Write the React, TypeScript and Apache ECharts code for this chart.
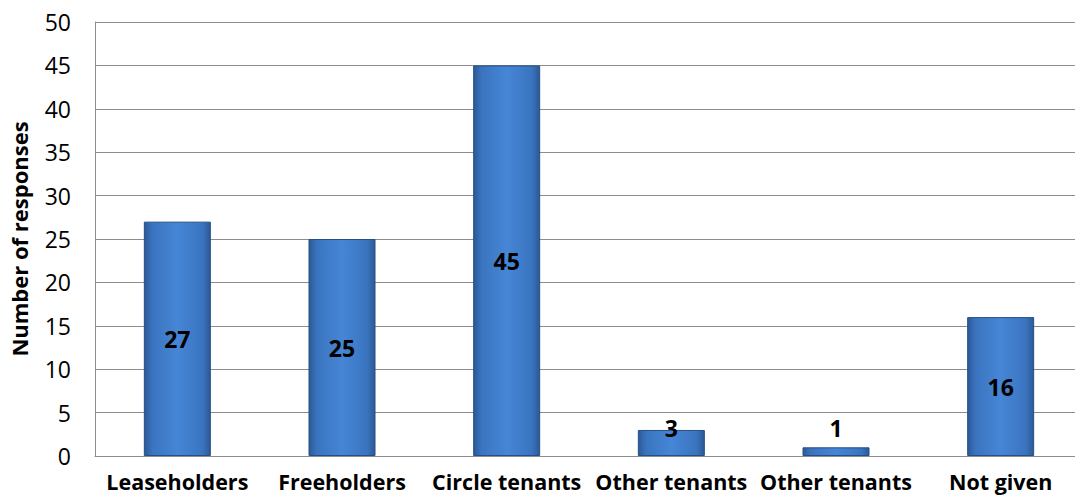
import React, { useEffect, useRef } from "react";
import * as echarts from "echarts";

const categories = ["Leaseholders", "Freeholders", "Circle tenants", "Other tenants", "Other tenants", "Not given"];
const values = [27, 25, 45, 3, 1, 16];
const labelOffsets = [0, 0, 0, -15, -24, 0];
const yTicks = { min: 0, max: 50, interval: 5 };

export default function App() {
  const ref = useRef<HTMLDivElement>(null);
  useEffect(() => {
    if (!ref.current) return;
    const chart = echarts.init(ref.current, null, { renderer: "svg" });
    const font = "'Open Sans', Lato, sans-serif";
    const barColor = new echarts.graphic.LinearGradient(0, 0, 1, 0, [
      { offset: 0, color: "#2b5a96" },
      { offset: 0.12, color: "#3a74bf" },
      { offset: 0.5, color: "#4686d6" },
      { offset: 0.88, color: "#3a74bf" },
      { offset: 1, color: "#2b5a96" },
    ]);
    chart.setOption({
      animation: false,
      grid: { left: 94, top: 22, width: 997, height: 434, containLabel: false },
      xAxis: {
        type: "category",
        data: categories,
        axisLine: { show: true, lineStyle: { color: "#8c8c8c", width: 1 } },
        axisTick: { show: false },
        axisLabel: {
          interval: 0,
          color: "#000",
          fontFamily: font,
          fontWeight: "bold",
          fontSize: 21.5,
          margin: 14,
        },
      },
      yAxis: {
        type: "value",
        min: yTicks.min,
        max: yTicks.max,
        interval: yTicks.interval,
        name: "Number of responses",
        nameLocation: "middle",
        nameGap: 65,
        nameTextStyle: { color: "#000", fontFamily: font, fontWeight: "bold", fontSize: 22 },
        axisLine: { show: true, lineStyle: { color: "#8c8c8c", width: 1 } },
        axisTick: { show: false },
        axisLabel: { color: "#000", fontFamily: font, fontSize: 23, margin: 24 },
        splitLine: { show: true, lineStyle: { color: "#8c8c8c", width: 1 } },
      },
      series: [
        {
          type: "bar",
          barWidth: 67,
          data: values.map((v, i) => ({
            value: v,
            label: { offset: [0, labelOffsets[i]] },
          })),
          itemStyle: { color: barColor, borderColor: "#264f85", borderWidth: 1 },
          label: {
            show: true,
            position: "inside",
            color: "#000",
            fontFamily: font,
            fontWeight: "bold",
            fontSize: 23,
          },
        },
      ],
    });
    return () => chart.dispose();
  }, []);
  return <div ref={ref} style={{ width: 1083, height: 504, margin: -8 }} />;
}
